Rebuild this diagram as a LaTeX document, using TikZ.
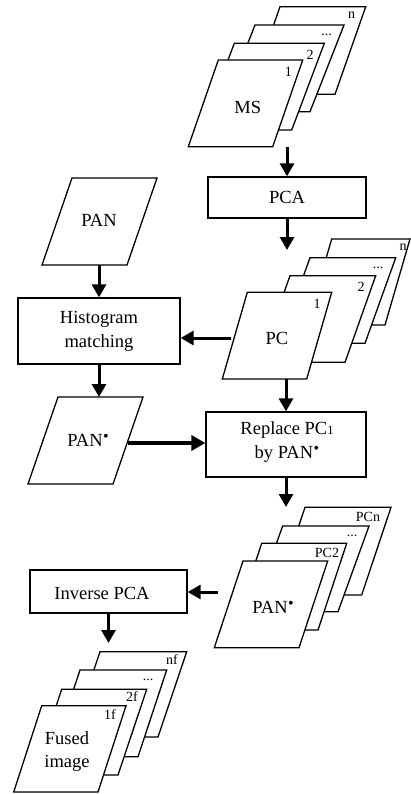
\documentclass[tikz,border=0pt]{standalone}
\usepackage{fontspec}
\setmainfont{Liberation Serif}
\usetikzlibrary{arrows.meta}
\newcommand\bigtxt{\fontsize{18.5}{24}\selectfont}
\newcommand\smalltxt{\fontsize{14}{15}\selectfont}
\newcommand\bul{\kern0.5pt\raisebox{4.5pt}{\fontsize{16}{16}\selectfont\textbullet}}
\newcommand\pgsheet[5]{\filldraw[sheet] (#1,#2) -- (#3,#2) -- (#4,#5) -- ({#4-(#3-#1)},#5) -- cycle;}
\begin{document}
\begin{tikzpicture}[x=1pt,y=-1pt,
  sheet/.style={draw=black, fill=white, line width=1.3pt, line join=miter},
  box/.style={draw=black, line width=1.3pt, inner sep=0pt, align=center, font=\bigtxt},
  txt/.style={inner sep=0pt, align=center, font=\bigtxt},
  lbl/.style={inner sep=0pt, font=\smalltxt},
  arr/.style={line width=3pt, -{Triangle[width=14pt,length=13pt]}},
  arrthick/.style={line width=4pt, -{Triangle[width=15pt,length=14pt]}}]
\useasboundingbox (0,0) rectangle (411,794);
% MS stack
\pgsheet{280}{6.7}{365.7}{335}{94.3}
\pgsheet{255}{25}{344}{310}{111.7}
\pgsheet{234.3}{43.3}{324.3}{291.7}{130}
\pgsheet{218.3}{60}{302.7}{272.7}{146.7}
\node[lbl] (msn) at (351.7,15) {n};
\node[lbl] (msd) at (326.7,35) {...};
\node[lbl] (ms2) at (310,55) {2};
\node[lbl] (ms1) at (288.3,71.7) {1};
\node[txt] (ms) at (247.7,107.3) {MS};
% PCA box
\node[box, minimum width=158pt, minimum height=41pt] (pca) at (287,197.5) {PCA};
% PC stack
\pgsheet{331.7}{239}{410}{385}{325}
\pgsheet{310}{257.7}{395.7}{365}{343.3}
\pgsheet{290}{275.7}{375.7}{345}{362.3}
\pgsheet{247.3}{292.3}{331.7}{306.7}{379}
\node[lbl] (pcn) at (403,247) {n};
\node[lbl] (pcd) at (378,268) {...};
\node[lbl] (pc2) at (361,287) {2};
\node[lbl] (pc1) at (317,304) {1};
\node[txt] (pc) at (277,338) {PC};
% PAN
\pgsheet{72}{178}{157}{127}{265}
\node[txt] (pan) at (99,220) {PAN};
% Histogram box
\node[box, minimum width=162pt, minimum height=66pt] (hist) at (99,331) {Histogram\\matching};
% PAN* single
\pgsheet{58}{397}{143}{113}{484}
\node[txt] (pans) at (88,440) {PAN\bul};
% Replace box
\node[box, minimum width=160pt, minimum height=65pt] (rep) at (286,444.5) {};
\node[txt] (reptxt) at (287,442) {Replace PC{\fontsize{12.5}{12}\selectfont 1}\\by PAN\bul};
% PAN* stack
\pgsheet{305}{507.3}{391}{361.7}{595}
\pgsheet{282.7}{526}{369}{338}{611.7}
\pgsheet{261.7}{543.3}{346.7}{318}{630}
\pgsheet{243}{561}{327.7}{299}{647.7}
\node[lbl] (pspcn) at (368,517) {PCn};
\node[lbl] (psd) at (352,536) {...};
\node[lbl] (pspc2) at (327,553) {PC2};
\node[txt] (pstack) at (273,607) {PAN\bul};
% Inverse PCA
\node[box, minimum width=157pt, minimum height=43pt] (inv) at (108.5,591.5) {};
\node[txt] (invtxt) at (102,593) {Inverse PCA};
% Fused stack
\pgsheet{100}{651.7}{186.7}{158}{737}
\pgsheet{80}{670}{166.7}{138}{756.7}
\pgsheet{61.7}{689.3}{146.7}{118}{775}
\pgsheet{41.7}{705.7}{126}{98}{792}
\node[lbl] (fn) at (172,660) {nf};
\node[lbl] (fd) at (148,680) {...};
\node[lbl] (f2) at (132,697) {2f};
\node[lbl] (f1) at (110,715) {1f};
\node[txt, font=\fontsize{18.5}{23}\selectfont] (fused) at (67,751.5) {Fused\\image};
% connector end points
\coordinate (msB) at (287,146.7);
\coordinate (pcTip) at (287,250);
\coordinate (pcL) at (231,338);
\coordinate (panB) at (99,265);
\coordinate (pansT) at (99,397);
\coordinate (pansR) at (128,443);
\coordinate (pcB) at (286,379);
\coordinate (psTip) at (286,507);
\coordinate (psL) at (218,592);
\coordinate (fTip) at (108.5,643);
% connectors
\draw[arr] (msB) -- (pca.north);
\draw[arr] (pca.south) -- (pcTip);
\draw[arr] (pcL) -- (pcL -| hist.east);
\draw[arr] (panB) -- (hist.north);
\draw[arr] (hist.south) -- (pansT);
\draw[arrthick] (pansR) -- (pansR -| rep.west);
\draw[arr] (pcB) -- (rep.north);
\draw[arr] (rep.south) -- (psTip);
\draw[arr] (psL) -- (psL -| inv.east);
\draw[arr] (inv.south) -- (fTip);
\end{tikzpicture}
\end{document}
